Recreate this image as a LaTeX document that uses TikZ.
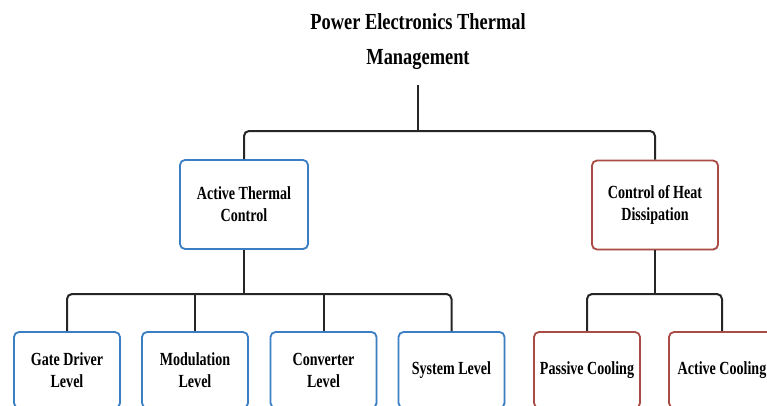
\documentclass[tikz,border=0pt]{standalone}
\usepackage{fontspec}
\setmainfont{Liberation Serif}
\newfontfamily\titlefont[FakeStretch=0.8]{Liberation Serif}
\newfontfamily\boxfont[FakeStretch=0.76]{Liberation Serif}
\usetikzlibrary{shadows}
\definecolor{boxblue}{RGB}{58,126,196}
\definecolor{boxred}{RGB}{170,76,70}
\tikzset{
  x=1pt, y=1pt,
  box/.style={draw, line width=1.8pt, rounded corners=5pt, fill=white,
    align=center, font=\boxfont\bfseries\fontsize{18.5}{22}\selectfont,
    inner sep=0pt,
    drop shadow={opacity=0.18, shadow xshift=1pt, shadow yshift=-1pt}},
  bluebox/.style={box, draw=boxblue},
  redbox/.style={box, draw=boxred},
  upper/.style={minimum height=89pt},
  lower/.style={minimum width=106pt, minimum height=76pt},
  conn/.style={draw=black!85, line width=2pt, rounded corners=5pt},
}
\begin{document}
\begin{tikzpicture}
\useasboundingbox (0,0) rectangle (767,405);
\clip (0,0) rectangle (767,405);
\node[align=center, font=\titlefont\bfseries\fontsize{23}{35}\selectfont] (title) at (418,363) {Power Electronics Thermal\\Management};
\coordinate (tstart) at (418,320);
\coordinate (bus1) at (0,274);
\coordinate (bus2) at (0,111);

\node[bluebox, upper, minimum width=128pt] (active) at (244,200.5) {Active Thermal\\Control};
\node[redbox, upper, minimum width=126pt] (control) at (655,200) {Control of Heat\\Dissipation};

\node[bluebox, lower] (gate) at (67,35) {Gate Driver\\Level};
\node[bluebox, lower] (modulation) at (195,35) {Modulation\\Level};
\node[bluebox, lower] (converter) at (323.5,35) {Converter\\Level};
\node[bluebox, lower] (system) at (451.5,35) {System Level};
\node[redbox, lower] (passive) at (587,35) {Passive Cooling};
\node[redbox, lower] (acool) at (722,35) {Active Cooling};

\draw[conn] (tstart) -- (tstart |- bus1);
\draw[conn] (active.north) -- (active.north |- bus1) -- (control.north |- bus1) -- (control.north);

\draw[conn] (active.south) -- (active.south |- bus2);
\draw[conn] (gate.north) -- (gate.north |- bus2) -- (system.north |- bus2) -- (system.north);
\draw[conn] (modulation.north) -- (modulation.north |- bus2);
\draw[conn] (converter.north) -- (converter.north |- bus2);

\draw[conn] (control.south) -- (control.south |- bus2);
\draw[conn] (passive.north) -- (passive.north |- bus2) -- (acool.north |- bus2) -- (acool.north);
\end{tikzpicture}
\end{document}
